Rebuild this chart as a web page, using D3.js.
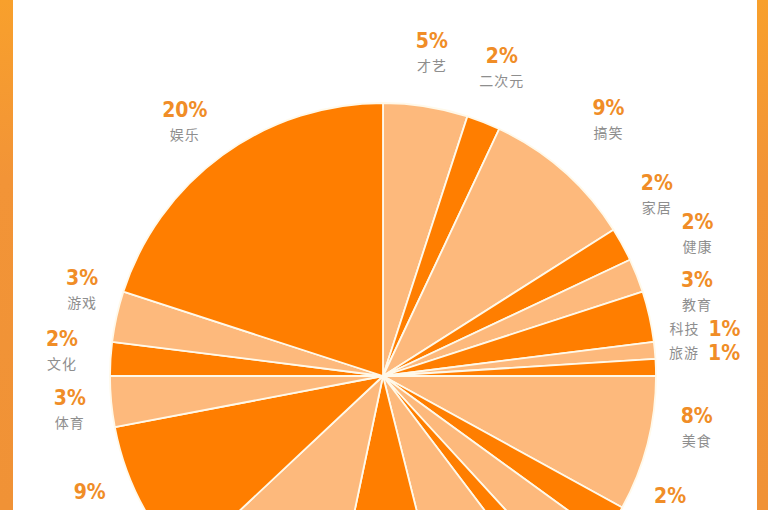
<!DOCTYPE html>
<html>
<head>
<meta charset="utf-8">
<script src="https://cdn.jsdelivr.net/npm/d3@7"></script>
<style>
  html, body { margin: 0; padding: 0; background: #ffffff; overflow: hidden; }
  svg { display: block; }
</style>
</head>
<body>
<svg id="chart" width="768" height="510"></svg>
<script>
// Share of content by category, clockwise from 12 o'clock.
// Empty names are categories whose captions fall below the visible area.
const categories = ['才艺', '二次元', '搞笑', '家居', '健康', '教育', '科技', '旅游', '美食', '',
                    '', '', '', '', '', '', '体育', '文化', '游戏', '娱乐'];
const shares = [5, 2, 9, 2, 2, 3, 1, 1, 8, 2,
                3.2, 1.5, 6.4, 7.2, 9.7, 9, 3, 2, 3, 20];

// Two alternating tones of orange.
const tones = ['#fdb97c', '#ff7e00'];

// Caption placement: small angular nudges (degrees) and radii around the pie.
const labelNudge = [-0.4, -0.5, 0, -4.6, -2.7, -2.4, -3.1, -2.5, -5, -7.7,
                    0, 0, 0, 0, 0, 3.4, -0.8, 0.9, 3.4, -2];
const labelRadius = [327, 330, 341, 328, 345, 325, 324, 321, 318, 316,
                     320, 320, 320, 320, 320, 320, 315, 322, 313, 322];

const W = 768, H = 510;
const cx = 383, cy = 376, R = 273;

const svg = d3.select('#chart');

// Orange frame bands on both sides.
const defs = svg.append('defs');
const grad = defs.append('linearGradient').attr('id', 'band')
  .attr('x1', 0).attr('y1', 0).attr('x2', 0).attr('y2', 1);
grad.append('stop').attr('offset', '0%').attr('stop-color', '#f8a02c');
grad.append('stop').attr('offset', '35%').attr('stop-color', '#f29437');
grad.append('stop').attr('offset', '100%').attr('stop-color', '#f09236');

svg.append('rect').attr('x', 0).attr('y', 0).attr('width', 13).attr('height', H).attr('fill', 'url(#band)');
svg.append('rect').attr('x', 757).attr('y', 0).attr('width', 11).attr('height', H).attr('fill', 'url(#band)');

const data = shares.map((v, i) => ({ name: categories[i], value: v, idx: i }));

const pie = d3.pie().sort(null).value(d => d.value);
const arcs = pie(data);

const arc = d3.arc().innerRadius(0).outerRadius(R);

const g = svg.append('g').attr('transform', `translate(${cx},${cy})`);

g.selectAll('path.slice')
  .data(arcs)
  .join('path')
  .attr('class', 'slice')
  .attr('d', arc)
  .attr('fill', d => tones[d.index % 2])
  .attr('stroke', '#fff9ea')
  .attr('stroke-width', 1.8)
  .attr('stroke-linejoin', 'round');

// Captions: percentage above, category name below.
const fmt = d3.format('.0f');
const labels = arcs.map(d => {
  const mid = (d.startAngle + d.endAngle) / 2 + labelNudge[d.index] * Math.PI / 180;
  const r = labelRadius[d.index];
  return {
    d,
    x: cx + r * Math.sin(mid),
    y: cy - r * Math.cos(mid)
  };
}).filter(l => l.y - 14 < H);

const valueFont = '"DejaVu Sans Condensed", "Liberation Sans Narrow", sans-serif';
const nameFont = '"Noto Sans CJK SC", "Noto Sans", sans-serif';

const lg = svg.append('g');

labels.forEach(l => {
  const txt = fmt(l.d.data.value) + '%';
  if (l.d.data.value < 1.5 && l.d.data.name) {
    // Thin slices: name and value on one line.
    lg.append('text')
      .attr('x', l.x - 4).attr('y', l.y + 6)
      .attr('text-anchor', 'end')
      .attr('font-family', nameFont).attr('font-size', 14)
      .attr('letter-spacing', 1)
      .attr('fill', '#8e8e8e')
      .text(l.d.data.name);
    lg.append('text')
      .attr('x', l.x + 5).attr('y', l.y + 8)
      .attr('text-anchor', 'start')
      .attr('font-family', valueFont).attr('font-weight', 'bold').attr('font-size', 21)
      .attr('fill', '#f08d27')
      .text(txt);
  } else {
    lg.append('text')
      .attr('x', l.x).attr('y', l.y - 5)
      .attr('text-anchor', 'middle')
      .attr('font-family', valueFont).attr('font-weight', 'bold').attr('font-size', 21)
      .attr('fill', '#f08d27')
      .text(txt);
    if (l.d.data.name) {
      lg.append('text')
        .attr('x', l.x).attr('y', l.y + 18)
        .attr('text-anchor', 'middle')
        .attr('font-family', nameFont).attr('font-size', 14)
        .attr('letter-spacing', 1)
        .attr('fill', '#8e8e8e')
        .text(l.d.data.name);
    }
  }
});
</script>
</body>
</html>
